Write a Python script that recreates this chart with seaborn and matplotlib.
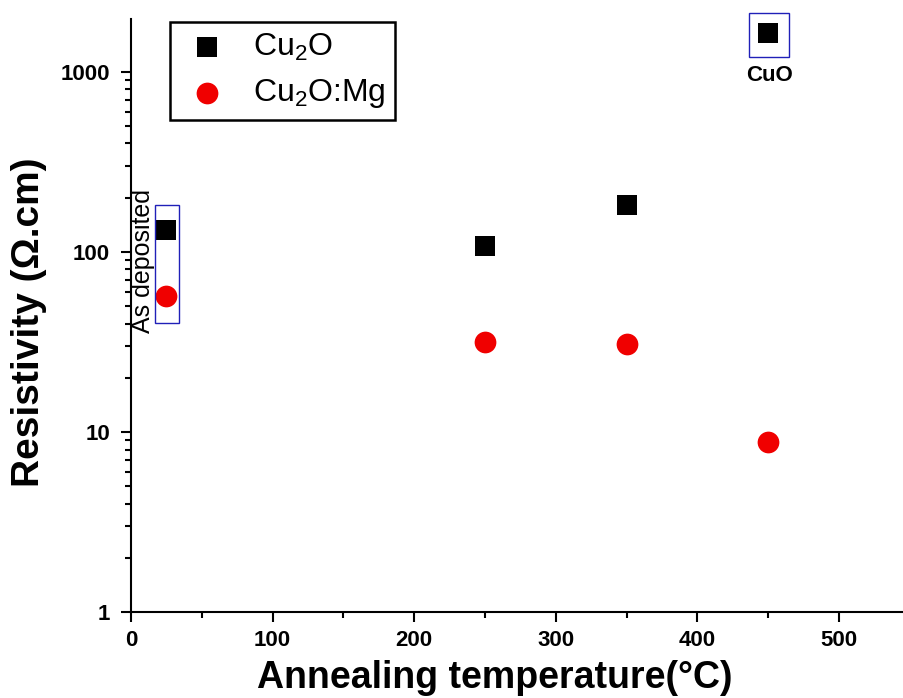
import matplotlib
matplotlib.use("Agg")
import matplotlib.pyplot as plt
from matplotlib.patches import Rectangle
from matplotlib.ticker import MultipleLocator, LogLocator, FixedLocator, NullFormatter
import numpy as np
import pandas as pd
import seaborn as sns

# Annealing temperatures (the 25 °C point is the as-deposited film)
temps = [25, 250, 350, 450]
# Resistivity in ohm.cm
cu2o = [133, 108, 183, 1633]
cu2o_mg = [57, 31.6, 30.9, 8.8]

series_names = ["Cu$\\mathregular{_2}$O", "Cu$\\mathregular{_2}$O:Mg"]
x_ticks = [0, 100, 200, 300, 400, 500]
y_ticks = [1, 10, 100, 1000]
y_tick_labels = ["1", "10", "100", "1000"]

sns.set_style("ticks")
plt.rcParams["font.family"] = ["Liberation Sans", "DejaVu Sans"]
plt.rcParams["mathtext.fontset"] = "custom"
plt.rcParams["mathtext.rm"] = "Liberation Sans"
plt.rcParams["mathtext.bf"] = "Liberation Sans:bold"
for key in ["text.color", "axes.labelcolor", "xtick.color", "ytick.color",
            "axes.edgecolor"]:
    plt.rcParams[key] = "black"

df = pd.DataFrame({
    "temp": temps * 2,
    "rho": cu2o + cu2o_mg,
    "sample": [series_names[0]] * len(temps) + [series_names[1]] * len(temps),
})

fig = plt.figure(figsize=(9.04, 6.98), dpi=100)
ax = fig.add_axes([131 / 904, (698 - 612.3) / 698, 773 / 904, 593.3 / 698])

sns.scatterplot(data=df[df["sample"] == series_names[0]], x="temp", y="rho",
                marker="s", color="black", s=200, linewidth=0, ax=ax,
                label=series_names[0], clip_on=False, zorder=3)
sns.scatterplot(data=df[df["sample"] == series_names[1]], x="temp", y="rho",
                marker="o", color="#f00000", s=245, linewidth=0, ax=ax,
                label=series_names[1], clip_on=False, zorder=3)

ax.set_yscale("log")
ax.set_xlim(0, 546)
ax.set_ylim(1, 10 ** 3.292)

ax.xaxis.set_major_locator(FixedLocator(x_ticks))
ax.xaxis.set_minor_locator(MultipleLocator(50))
ax.yaxis.set_major_locator(FixedLocator(y_ticks))
ax.set_yticklabels(y_tick_labels)
ax.yaxis.set_minor_locator(LogLocator(base=10, subs=np.arange(2, 10)))
ax.yaxis.set_minor_formatter(NullFormatter())

for side in ["top", "right"]:
    ax.spines[side].set_visible(False)
for side in ["left", "bottom"]:
    ax.spines[side].set_linewidth(1.5)
    ax.spines[side].set_color("black")

ax.tick_params(axis="both", which="major", direction="out", length=7, width=1.5,
               labelsize=16, color="black", labelcolor="black")
ax.tick_params(axis="y", which="major", pad=8)
ax.tick_params(axis="x", which="major", pad=6)
ax.tick_params(axis="both", which="minor", direction="out", length=4, width=1.5,
               color="black")
for lab in ax.get_xticklabels() + ax.get_yticklabels():
    lab.set_fontweight("bold")

ax.set_xlabel("Annealing temperature(°C)", fontsize=27, fontweight="bold")
ax.set_ylabel("Resistivity (Ω.cm)", fontsize=28, fontweight="bold")
ax.xaxis.set_label_coords((495 - 131) / 773, -(660 - 612.3) / 593.3)
ax.yaxis.set_label_coords((47 - 131) / 773, (612.3 - 322) / 593.3)

leg = ax.legend(loc="upper left", bbox_to_anchor=(39 / 773, (612.3 - 22) / 593.3),
                borderaxespad=0, frameon=True, fancybox=False, framealpha=1,
                edgecolor="black", fontsize=23, borderpad=0.3, handlelength=1.7,
                handletextpad=0.6, labelspacing=0.45)
leg.get_frame().set_linewidth(1.8)

# Boxes marking the as-deposited films and the CuO phase
box_color = "#2020b8"
ax.add_patch(Rectangle((17.2, 40.2), 33.9 - 17.2, 181 - 40.2, fill=False,
                       edgecolor=box_color, linewidth=1.0, zorder=4))
ax.add_patch(Rectangle((436.4, 1202), 464.9 - 436.4, 2109 - 1202, fill=False,
                       edgecolor=box_color, linewidth=1.0, zorder=4, clip_on=False))

ax.text(8.5, 89.5, "As deposited", rotation=90, ha="center", va="center",
        fontsize=18)
ax.text(451, 947, "CuO", ha="center", va="center", fontsize=16, fontweight="bold")

fig.savefig("out.png", dpi=100)
